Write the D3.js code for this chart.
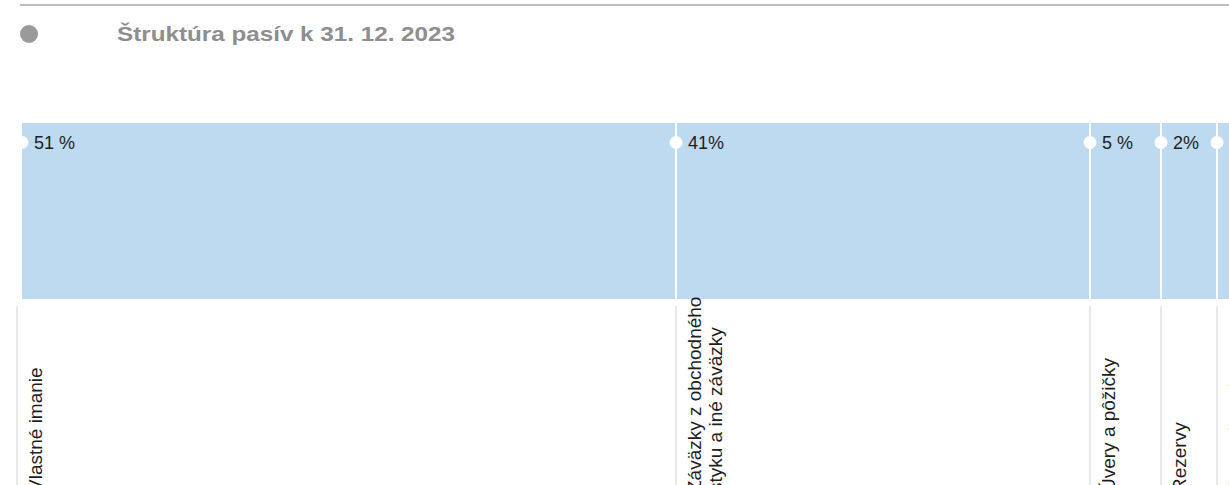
<!DOCTYPE html>
<html>
<head>
<meta charset="utf-8">
<script src="https://cdn.jsdelivr.net/npm/d3@7"></script>
<style>
	body { margin: 0; background: #fff; overflow: hidden; }
	svg { display: block; }
</style>
</head>
<body>
<div id="chart"></div>
<script>
var title = "Štruktúra pasív k 31. 12. 2023";
var categories = [
	["Vlastné imanie"],
	["Záväzky z obchodného", "styku a iné záväzky"],
	["Úvery a pôžičky"],
	["Rezervy"],
	["Ostatné pasíva"]
];
var shares = [51, 41, 5, 2, 1];
var shareLabels = ["51 %", "41%", "5 %", "2%", "1 %"];

var width = 1229, height = 485;
var barTop = 123, barBottom = 299;

var svg = d3.select("#chart").append("svg")
	.attr("width", width)
	.attr("height", height);

// cumulative edges of each segment
var edges = [0];
shares.forEach(function(s, i) { edges.push(edges[i] + s); });

// the source layout is not proportional, so the scale is piecewise
var x = d3.scaleLinear()
	.domain(edges)
	.range([22, 676, 1090, 1161, 1217, 1290]);

// header
svg.append("line")
	.attr("x1", 20).attr("x2", width)
	.attr("y1", 5).attr("y2", 5)
	.style("stroke", "#a8a8a8")
	.style("stroke-width", 1.5);
svg.append("circle")
	.attr("cx", 29).attr("cy", 34).attr("r", 9)
	.style("fill", "#9a9a9b");
svg.append("text")
	.attr("x", 117).attr("y", 41)
	.attr("textLength", 338)
	.attr("lengthAdjust", "spacingAndGlyphs")
	.style("font-family", "'Liberation Sans', Arial, sans-serif")
	.style("font-weight", "bold")
	.style("font-size", "21px")
	.style("fill", "#8e8e8f")
	.text(title);

var seg = svg.selectAll("g.seg")
	.data(shares)
	.enter().append("g")
	.attr("class", "seg");

seg.append("rect")
	.attr("x", function(d, i) { return x(edges[i]); })
	.attr("y", barTop)
	.attr("width", function(d, i) { return x(edges[i + 1]) - x(edges[i]); })
	.attr("height", barBottom - barTop)
	.style("fill", "#bddaf1");

// white separators
seg.filter(function(d, i) { return i > 0; }).append("line")
	.attr("x1", function(d, i) { return x(edges[i + 1]); })
	.attr("x2", function(d, i) { return x(edges[i + 1]); })
	.attr("y1", barTop).attr("y2", barBottom)
	.style("stroke", "#fff")
	.style("stroke-width", 2);

seg.append("circle")
	.attr("cx", function(d, i) { return x(edges[i]); })
	.attr("cy", 142.5)
	.attr("r", 6.5)
	.style("fill", "#fff");

seg.append("text")
	.attr("x", function(d, i) { return x(edges[i]) + 12; })
	.attr("y", 149)
	.style("font-family", "'Liberation Sans', Arial, sans-serif")
	.style("font-size", "18px")
	.style("fill", "#1e1e1e")
	.text(function(d, i) { return shareLabels[i]; });

// grey guide lines under the bar
seg.append("line")
	.attr("x1", function(d, i) { return i == 0 ? x(edges[i]) - 5 : x(edges[i]); })
	.attr("x2", function(d, i) { return i == 0 ? x(edges[i]) - 5 : x(edges[i]); })
	.attr("y1", 306).attr("y2", height)
	.style("stroke", "#e8e8e8")
	.style("stroke-width", 2);

// rotated category names
var lbl = seg.append("text")
	.attr("transform", function(d, i) {
		var bx = (i == 0 ? x(edges[i]) - 5 : x(edges[i])) + 25;
		return "translate(" + bx + ",492) rotate(-90)";
	})
	.style("font-family", "'Liberation Sans', Arial, sans-serif")
	.style("font-size", "19px")
	.style("fill", "#1e1e1e");

lbl.selectAll("tspan")
	.data(function(d, i) { return categories[i]; })
	.enter().append("tspan")
	.attr("x", 0)
	.attr("dy", function(d, j) { return j == 0 ? 0 : 21; })
	.text(function(d) { return d; });
</script>
</body>
</html>
